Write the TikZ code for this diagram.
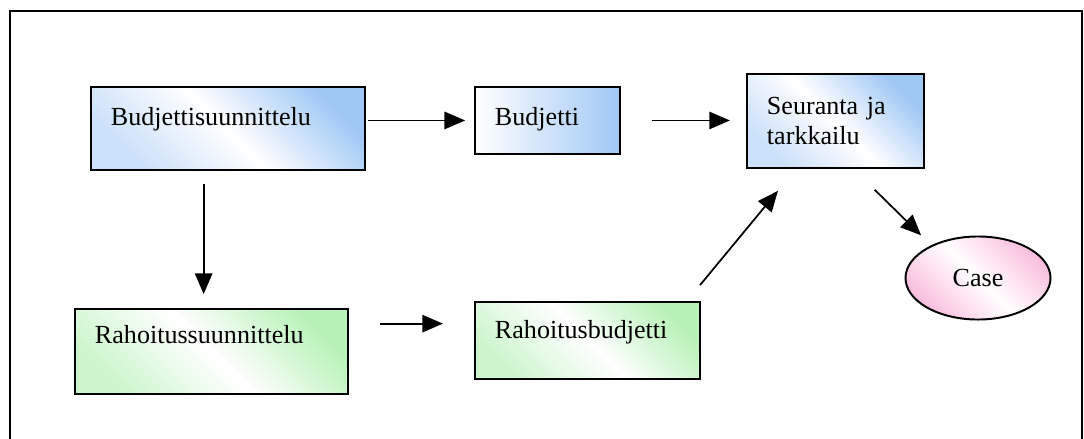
\documentclass[tikz,border=0pt]{standalone}
\usepackage{fontspec}
\setmainfont{Liberation Serif}
\definecolor{budj_blue}{RGB}{160, 200, 245}
\definecolor{rah_green}{RGB}{185, 242, 185}
\definecolor{case_pink}{RGB}{250, 190, 222}
\usetikzlibrary{arrows.meta, positioning, shapes.geometric, calc}

\begin{document}
\begin{tikzpicture}[x=0.46pt, y=-0.46pt,
        every node/.style={font=\fontsize{12}{13.8}\selectfont},
        box/.style={draw=black, line width=0.9pt, anchor=north west,
                    align=left, inner xsep=9.2pt, inner ysep=0pt},
        bluebox/.style={box, left color=budj_blue!55, right color=budj_blue,
                        middle color=white, shading angle=135},
        greenbox/.style={box, left color=rah_green!70, right color=rah_green,
                         middle color=white, shading angle=135},
        flow/.style={-{Triangle[length=9.5pt, width=8pt]}, line width=0.8pt},
      ]
        \useasboundingbox (0,0) rectangle (1084,438);
        % frame, open at the bottom
        \draw[line width=1pt] (10,450) -- (10,11) -- (1082,11) -- (1082,450);

        \node[bluebox, minimum width=126pt, text width=107.6pt,
              text height=17.9pt, text depth=20.2pt]  (plan)  at (90,86)   {Budjettisuunnittelu};
        \node[bluebox, left color=white, minimum width=66.7pt, text width=48.3pt,
              text height=17.5pt, text depth=13.3pt]  (budg)  at (474,86)  {Budjetti};
        \node[bluebox, minimum width=81.4pt, minimum height=43.2pt,
              text width=63pt]                         (watch) at (746,73)  {Seuranta ja\\tarkkailu};
        \node[greenbox, minimum width=125.6pt, text width=107.2pt,
              text height=16.1pt, text depth=23pt]    (fplan) at (74,308)  {Rahoitussuunnittelu};
        \node[greenbox, minimum width=103.5pt, text width=85.1pt,
              text height=16.6pt, text depth=18.9pt]  (fbudg) at (474,301) {Rahoitusbudjetti};
        \node[draw, ellipse, line width=0.9pt, inner sep=0pt,
              minimum width=66.7pt, minimum height=38.2pt,
              left color=case_pink, right color=case_pink, middle color=white,
              shading angle=135]                       (case)  at (978,278) {Case};

        \coordinate (down) at ($(plan.south west)!0.412!(plan.south east)$);
        \coordinate (fin)  at ($(fbudg.north west)!0.286!(fbudg.south west)$);

        \draw[flow, shorten <=1pt, shorten >=4.1pt]   (plan.east |- budg.west) -- (budg.west);
        \draw[flow, shorten <=14.3pt, shorten >=7.4pt] (budg.east) -- (budg.east -| watch.west);
        \draw[flow, shorten <=6pt, shorten >=6.4pt]   (down) -- (down |- fplan.north);
        \draw[flow, shorten <=14.3pt, shorten >=14.3pt] (fplan.east |- fin) -- (fin);
        \draw[flow, shorten <=9.5pt, shorten >=13.1pt]
          ($(fbudg.north west)!0.938!(fbudg.north east)$)
          -- ($(watch.south west)!0.28!(watch.south east)$);
        \draw[flow, shorten <=13.7pt, shorten >=6.5pt]
          ($(watch.south west)!0.6!(watch.south east)$) -- (case.145);
      \end{tikzpicture}
\end{document}
